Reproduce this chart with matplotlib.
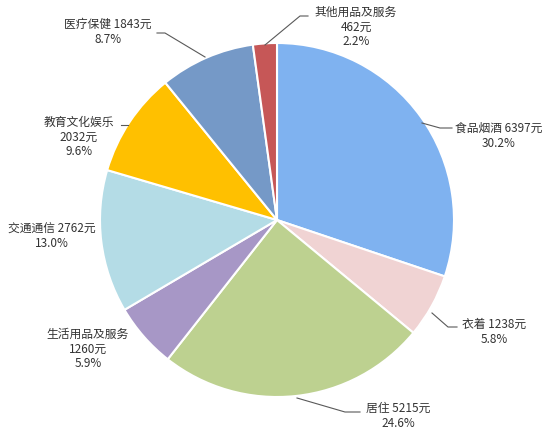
import matplotlib
matplotlib.use("Agg")
import matplotlib.pyplot as plt

plt.rcParams['font.family'] = ['Noto Sans CJK SC', 'DejaVu Sans']

# data
names = ['食品烟酒', '衣着', '居住', '生活用品及服务', '交通通信', '教育文化娱乐', '医疗保健', '其他用品及服务']
values = [6397, 1238, 5215, 1260, 2762, 2032, 1843, 462]
pcts = ['30.2%', '5.8%', '24.6%', '5.9%', '13.0%', '9.6%', '8.7%', '2.2%']
colors = ['#7FB2F0', '#F0D3D3', '#BDD190', '#A797C6', '#B4DCE6', '#FFC000', '#7599C7', '#C65757']

# label text, position in pixels from the top-left, leader line
labels = [
    (f'{names[0]} {values[0]}元\n{pcts[0]}', (499, 136), [(422, 123), (440, 128), (452, 128)]),
    (f'{names[1]} {values[1]}元\n{pcts[1]}', (494, 332), [(432, 313), (448, 327), (457, 327)]),
    (f'{names[2]} {values[2]}元\n{pcts[2]}', (398, 416), [(297, 398), (345, 412), (360, 412)]),
    (f'{names[3]}\n{values[3]}元\n{pcts[3]}', (88, 349), None),
    (f'{names[4]} {values[4]}元\n{pcts[4]}', (52, 236), None),
    (f'{names[5]}\n{values[5]}元\n{pcts[5]}', (79, 137), [(121, 125), (128, 125)]),
    (f'{names[6]} {values[6]}元\n{pcts[6]}', (108, 32), [(205, 57), (165, 33), (157, 33)]),
    (f'{names[7]}\n{values[7]}元\n{pcts[7]}', (356, 27), [(265, 45), (300, 16), (308, 16)]),
]

W, H = 554, 440
fig = plt.figure(figsize=(W / 100, H / 100), dpi=100)
ax = fig.add_axes([0, 0, 1, 1])

ax.pie(values, colors=colors, startangle=90, counterclock=False,
       center=(277, H - 220), radius=177, frame=True,
       wedgeprops=dict(edgecolor='white', linewidth=1.5))
ax.set_xlim(0, W)
ax.set_ylim(0, H)
ax.axis('off')

for txt, (x, y), line in labels:
    ax.text(x, H - y, txt, ha='center', va='center', fontsize=8.5,
            color='#333333', linespacing=1.15)
    if line:
        xs = [p[0] for p in line]
        ys = [H - p[1] for p in line]
        ax.plot(xs, ys, color='#595959', lw=0.8)

fig.savefig('out.png', dpi=100)
